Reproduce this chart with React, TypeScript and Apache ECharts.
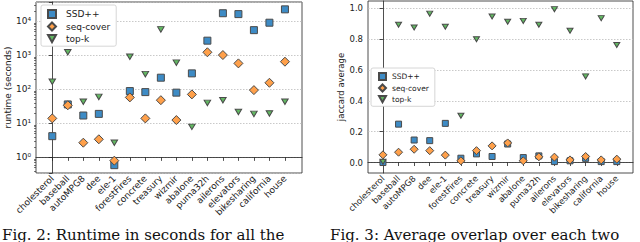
import React, { useEffect, useRef } from 'react';
import * as echarts from 'echarts';

const categories = ['cholesterol', 'baseball', 'autoMPG8', 'dee', 'ele-1', 'forestFires', 'concrete', 'treasury', 'wizmir', 'abalone', 'puma32h', 'ailerons', 'elevators', 'bikesharing', 'california', 'house'];

const runtimeSSD = [4.2, 36, 17, 19, 0.59, 89, 83, 220, 80, 295, 2700, 17300, 16300, 5500, 9100, 22500];
const runtimeSeqCover = [14, 34, 2.7, 3.4, 0.8, 58, 14, 48, 12.5, 71, 1230, 1020, 580, 95, 156, 650];
const runtimeTopK = [167, 1230, 43, 60, 2.7, 910, 280, 5800, 610, 7.9, 40, 48, 21.5, 19, 19.6, 43];

const jaccardSSD = [0.0, 0.249, 0.146, 0.142, 0.254, 0.028, 0.056, 0.039, 0.12, 0.032, 0.043, 0.006, 0.011, 0.027, 0.006, 0.006];
const jaccardSeqCover = [0.05, 0.067, 0.086, 0.077, 0.048, 0.011, 0.077, 0.108, 0.127, 0.011, 0.037, 0.035, 0.017, 0.039, 0.017, 0.022];
const jaccardTopK = [0.005, 0.894, 0.876, 0.966, 0.881, 0.303, 0.8, 0.947, 0.913, 0.919, 0.894, 0.995, 0.855, 0.559, 0.937, 0.763];

const jaccardTicks = [0, 0.2, 0.4, 0.6, 0.8, 1.0];
const seriesNames = ['SSD++', 'seq-cover', 'top-k'];
const captionLeft = 'Fig. 2: Runtime in seconds for all the';
const captionRight = 'Fig. 3: Average overlap over each two';

const BLUE = '#3d8bc5';
const ORANGE = '#ffa04a';
const GREEN = '#62b862';
const EDGE = '#4a4a4a';
const INK = '#222';
const TRI = 'path://M0,0L10,0L5,9Z';

const SUP: Record<string, string> = { '-': '⁻', '0': '⁰', '1': '¹', '2': '²', '3': '³', '4': '⁴', '5': '⁵', '6': '⁶', '7': '⁷', '8': '⁸', '9': '⁹' };

const catIdx = categories.map((_, i) => i);
const toPairs = (arr: number[]) => arr.map((v, i) => [i, v]);

const LOG_MIN = 0.347;
const LOG_MAX = 37000;
const minorLog: number[] = [];
for (let e = -1; e <= 4; e++) {
  for (let m = 2; m <= 9; m++) {
    const v = m * Math.pow(10, e);
    if (v > LOG_MIN && v < LOG_MAX) minorLog.push(Math.log10(v));
  }
}

export default function App() {
  const ref = useRef<HTMLDivElement>(null);
  useEffect(() => {
    if (!ref.current) return;
    const chart = echarts.init(ref.current, undefined, { renderer: 'svg' });
    const axisLine = { show: true, lineStyle: { color: INK, width: 0.8 } };
    const axisTick = (vals: number[]) => ({ show: true, inside: false, length: 3.5, lineStyle: { color: INK, width: 0.8 }, customValues: vals });
    const symbolStyle = (color: string) => ({ color, borderColor: EDGE, borderWidth: 1, opacity: 1 });
    const mkSeries = (name: string, data: number[], sym: string, size: any, color: string, xi: number, yi: number) => ({
      type: 'scatter', name, data: toPairs(data), symbol: sym, symbolSize: size,
      xAxisIndex: xi, yAxisIndex: yi, itemStyle: symbolStyle(color),
    });
    const legendBase = (left: number, top: number, fs: number, gap: number, textPad: number, iw: number, pad: number[]) => ({
      left, top, orient: 'vertical', itemWidth: iw, itemHeight: iw, itemGap: gap,
      padding: pad, borderColor: '#cccccc', borderWidth: 0.8, borderRadius: 2, backgroundColor: '#fff',
      textStyle: { fontSize: fs, color: INK, fontFamily: 'DejaVu Sans', padding: [0, 0, 0, textPad] },
      data: [{ name: seriesNames[0], icon: 'rect' }, { name: seriesNames[1], icon: 'diamond' }, { name: seriesNames[2], icon: TRI }],
    });
    chart.setOption({
      animation: false,
      textStyle: { fontFamily: 'DejaVu Sans' },
      grid: [
        { left: 36, top: 2, width: 266, height: 171, show: true, borderColor: INK, borderWidth: 0.8, backgroundColor: 'transparent' },
        { left: 368, top: 1, width: 265, height: 172, show: true, borderColor: INK, borderWidth: 0.8, backgroundColor: 'transparent' },
      ],
      legend: [
        legendBase(41, 5, 9, 2.5, 5, 8, [4, 6, 3, 6]),
        legendBase(371, 68, 7.5, 2.5, 1, 7, [4, 6, 3, 7]),
      ],
      xAxis: [
        {
          type: 'value', gridIndex: 0, min: -1.05, max: 16.1, splitLine: { show: false }, axisLine,
          axisTick: axisTick(catIdx),
          axisLabel: { customValues: catIdx, rotate: 45, fontSize: 9, color: INK, margin: 4, formatter: (v: number) => categories[Math.round(v)] ?? '' },
        },
        {
          type: 'value', gridIndex: 1, min: -0.96, max: 16.04, splitLine: { show: false }, axisLine,
          axisTick: axisTick(catIdx),
          axisLabel: { customValues: catIdx, rotate: 45, fontSize: 8.5, color: INK, margin: 4, formatter: (v: number) => categories[Math.round(v)] ?? '' },
        },
      ],
      yAxis: [
        {
          type: 'log', logBase: 10, gridIndex: 0, min: LOG_MIN, max: LOG_MAX, axisLine,
          axisTick: { show: true, length: 3.5, lineStyle: { color: INK, width: 0.8 } },
          splitLine: { show: true, lineStyle: { type: [1.5, 1.5], color: '#bbbbbb', width: 0.8 } },
          axisLabel: {
            fontSize: 9, color: INK, margin: 5,
            formatter: (v: number) => {
              const l = Math.log10(v);
              const e = Math.round(l);
              if (Math.abs(l - e) > 0.01) return '';
              return '10' + String(e).split('').map((c) => SUP[c]).join('');
            },
          },
          name: 'runtime (seconds)', nameLocation: 'middle', nameGap: 24, nameRotate: 90,
          nameTextStyle: { fontSize: 9, color: INK },
        },
        {
          type: 'value', gridIndex: 0, position: 'left', min: Math.log10(LOG_MIN), max: Math.log10(LOG_MAX),
          axisLine: { show: false }, splitLine: { show: false }, axisLabel: { show: false },
          axisTick: { show: true, length: 2, lineStyle: { color: INK, width: 0.6 }, customValues: minorLog },
        },
        {
          type: 'value', gridIndex: 1, min: -0.068, max: 1.048, axisLine,
          axisTick: axisTick(jaccardTicks),
          splitLine: { show: true, lineStyle: { type: [1.5, 1.5], color: '#bbbbbb', width: 0.8 } },
          axisLabel: { customValues: jaccardTicks, fontSize: 8.5, color: INK, margin: 5, formatter: (v: number) => v.toFixed(1) },
          name: 'jaccard average', nameLocation: 'middle', nameGap: 22, nameRotate: 90,
          nameTextStyle: { fontSize: 8.5, color: INK },
        },
      ],
      series: [
        mkSeries(seriesNames[0], runtimeSSD, 'rect', 7, BLUE, 0, 0),
        mkSeries(seriesNames[1], runtimeSeqCover, 'diamond', 9, ORANGE, 0, 0),
        mkSeries(seriesNames[2], runtimeTopK, TRI, [6.5, 5.5], GREEN, 0, 0),
        mkSeries(seriesNames[0], jaccardSSD, 'rect', 6, BLUE, 1, 2),
        mkSeries(seriesNames[1], jaccardSeqCover, 'diamond', 8, ORANGE, 1, 2),
        mkSeries(seriesNames[2], jaccardTopK, TRI, [6, 5], GREEN, 1, 2),
      ],
      graphic: [
        { type: 'text', left: 2, top: 227, style: { text: captionLeft, font: '15px "DejaVu Serif"', fill: '#111' } },
        { type: 'text', left: 330, top: 227, style: { text: captionRight, font: '15px "DejaVu Serif"', fill: '#111' } },
      ],
    });
    return () => chart.dispose();
  }, []);
  return <div ref={ref} style={{ position: 'fixed', left: 0, top: 0, width: 640, height: 242, background: '#fff' }} />;
}
